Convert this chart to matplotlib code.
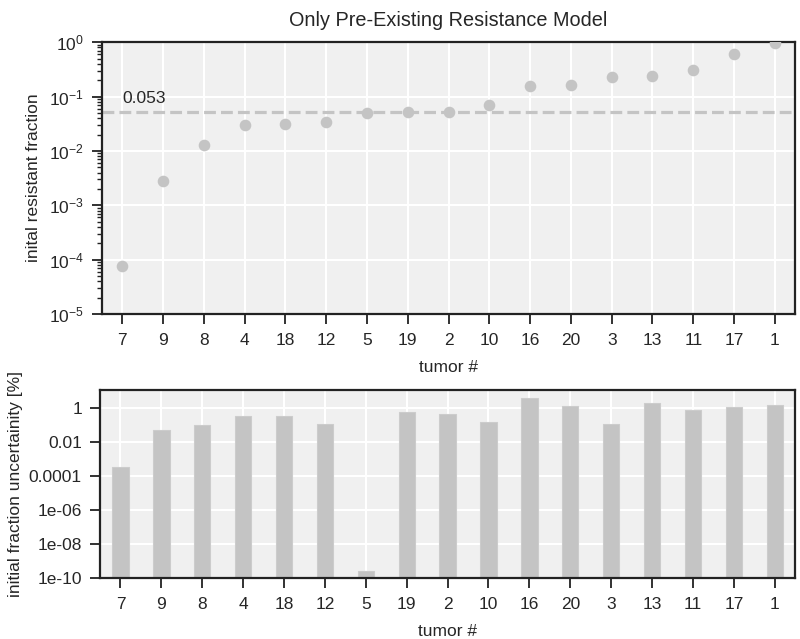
import matplotlib
matplotlib.use("Agg")
import matplotlib.pyplot as plt
import matplotlib.ticker as mticker
import numpy as np

tumors = ["7", "9", "8", "4", "18", "12", "5", "19", "2", "10", "16", "20", "3", "13", "11", "17", "1"]
resistant_fraction = [7.8e-5, 2.8e-3, 0.0129, 0.030, 0.031, 0.034, 0.049, 0.051, 0.051, 0.069,
                      0.155, 0.164, 0.224, 0.236, 0.305, 0.60, 0.97]
uncertainty = [3.4e-4, 0.047, 0.091, 0.32, 0.32, 0.105, 2.6e-10, 0.56, 0.42, 0.138,
               3.5, 1.3, 0.11, 1.96, 0.73, 1.1, 1.44]
median_value = 0.053
unc_ticks = [1e-10, 1e-8, 1e-6, 1e-4, 1e-2, 1]
unc_tick_labels = ["1e-10", "1e-08", "1e-06", "0.0001", "0.01", "1"]

plt.rcParams["font.family"] = ["Liberation Sans", "DejaVu Sans"]
plt.rcParams["mathtext.fontset"] = "custom"
plt.rcParams["mathtext.rm"] = "Liberation Sans"
plt.rcParams["mathtext.it"] = "Liberation Sans:italic"
plt.rcParams["mathtext.bf"] = "Liberation Sans:bold"

bg = "#f0f0f0"
grey = "#c4c4c4"
frame = "#222222"
txt = "#262626"

fig = plt.figure(figsize=(8, 6.39), dpi=100)
ax1 = fig.add_axes([0.1275, 0.5086, 0.994 - 0.1275, 0.934 - 0.5086])
ax2 = fig.add_axes([0.125, 0.0955, 0.994 - 0.125, 0.3897 - 0.0955])

x = np.arange(len(tumors))

for ax in (ax1, ax2):
    ax.set_facecolor(bg)
    for s in ax.spines.values():
        s.set_color(frame)
        s.set_linewidth(1.6)
    ax.set_axisbelow(True)
    ax.grid(True, which="major", color="white", linewidth=1.5)
    ax.set_xlim(-0.5, len(tumors) - 0.5)
    ax.set_xticks(x)
    ax.set_xticklabels(tumors)
    ax.tick_params(axis="both", which="major", direction="out", length=7, width=1.3,
                   color=frame, labelsize=12.5, labelcolor=txt, pad=6)
    ax.tick_params(axis="x", which="major", pad=7)
    ax.set_xlabel("tumor #", fontsize=12.5, color=txt, labelpad=8)

# Top panel
ax1.scatter(x, resistant_fraction, s=70, color=grey, zorder=3, clip_on=True, linewidths=0)
ax1.axhline(median_value, color=grey, linestyle="--", linewidth=2.3, zorder=2)
ax1.text(0, median_value * 1.25, "%.3f" % median_value, fontsize=12.5, color=txt,
         ha="left", va="bottom")
ax1.set_yscale("log")
ax1.set_ylim(1e-5, 1)
ax1.yaxis.set_major_locator(mticker.LogLocator(base=10, numticks=10))
ax1.yaxis.set_minor_locator(mticker.LogLocator(base=10, subs=np.arange(2, 10), numticks=10))
ax1.yaxis.set_minor_formatter(mticker.NullFormatter())
ax1.tick_params(axis="y", which="minor", direction="out", length=3.5, width=1.0, color=frame)
ax1.set_ylabel("inital resistant fraction", fontsize=12.5, color=txt, labelpad=6)
ax1.set_title("Only Pre-Existing Resistance Model", fontsize=14.3, color=txt, pad=12)

# Bottom panel
ax2.bar(x, uncertainty, width=0.4, color=grey, edgecolor="#cccccc", linewidth=0.8, zorder=2)
ax2.set_yscale("log")
ax2.set_ylim(1e-10, 11)
ax2.yaxis.set_major_locator(mticker.FixedLocator(unc_ticks))
ax2.yaxis.set_major_formatter(mticker.FixedFormatter(unc_tick_labels))
ax2.yaxis.set_minor_locator(mticker.NullLocator())
ax2.set_ylabel("initial fraction uncertainity [%]", fontsize=12.5, color=txt, labelpad=4)

fig.savefig("out.png", dpi=100)
